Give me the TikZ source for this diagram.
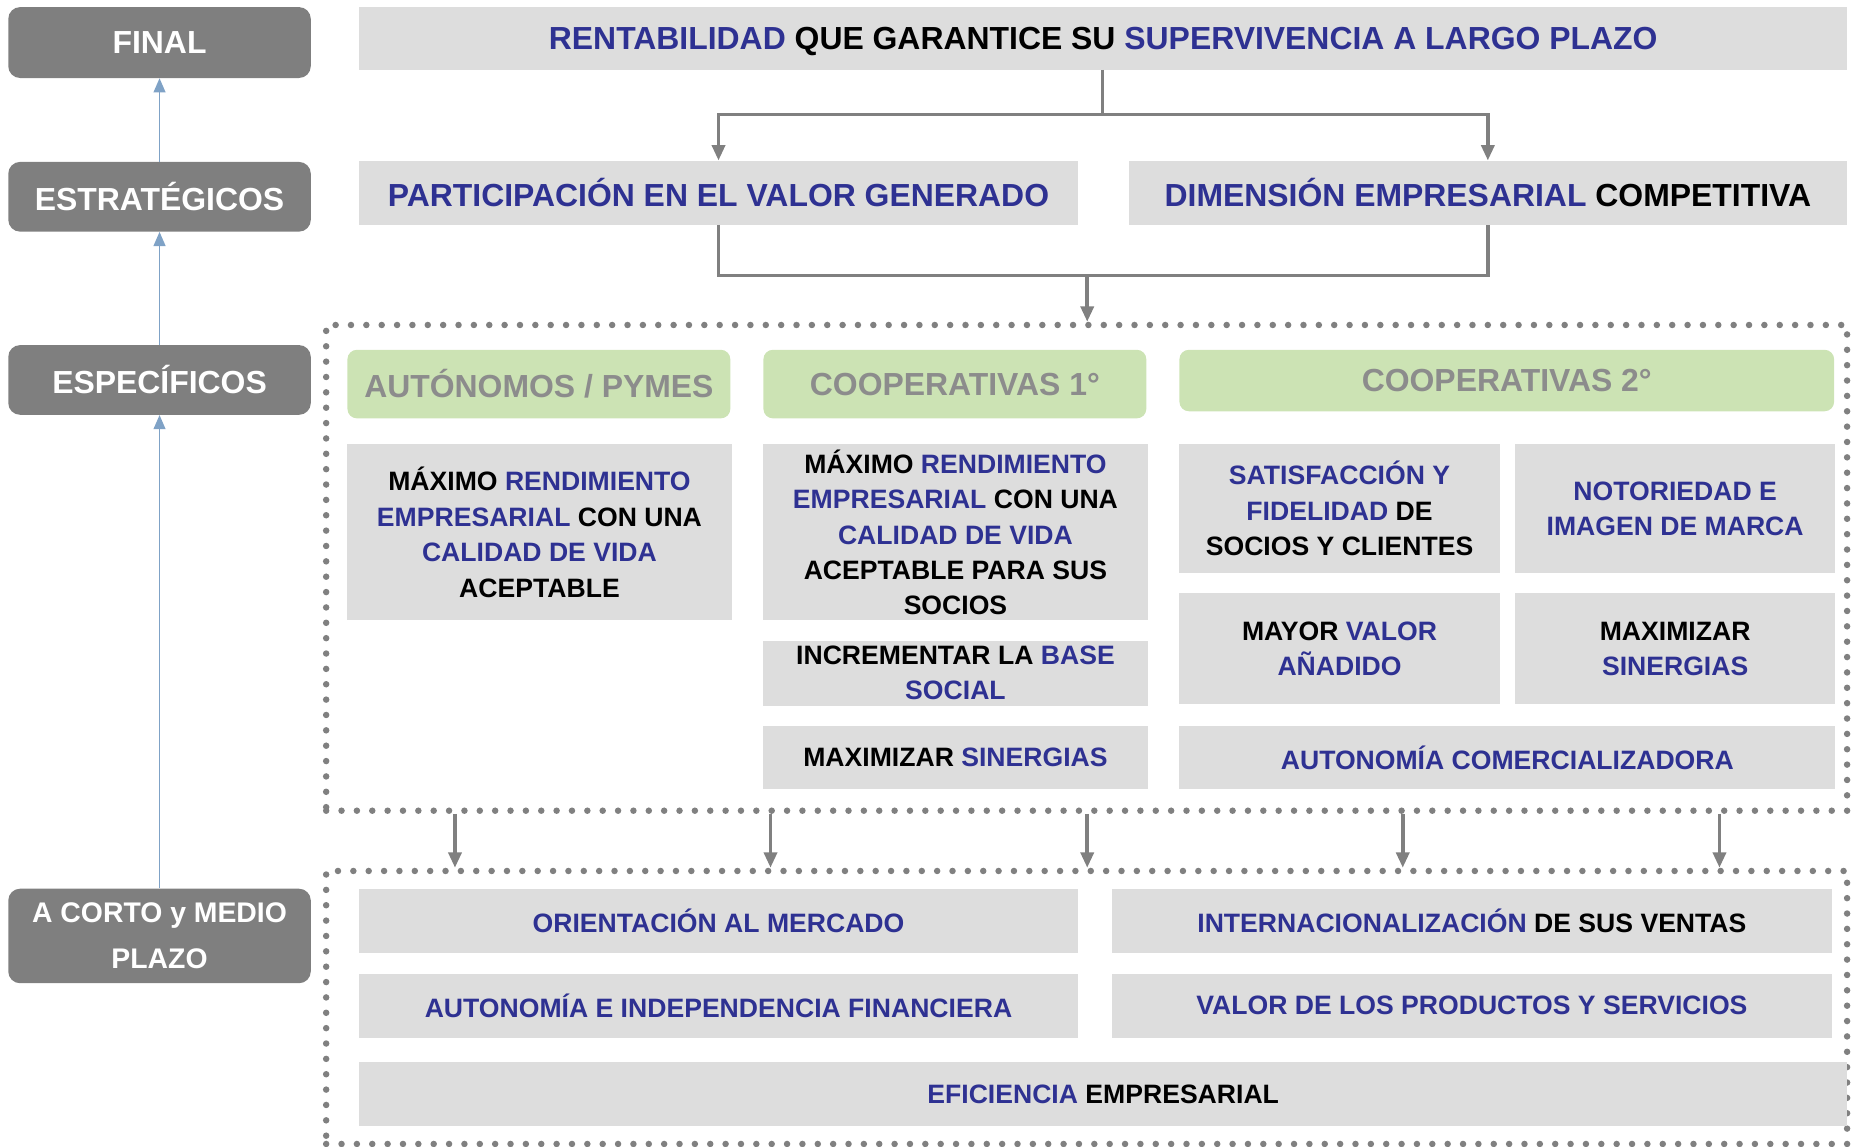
\documentclass[tikz,border=0pt]{standalone}
\usepackage{fontspec}
\setmainfont{Liberation Sans}
\usepackage{tikz}
\usetikzlibrary{arrows.meta}
\definecolor{azul}{HTML}{2E3192}
\definecolor{grisclaro}{HTML}{DDDDDD}
\definecolor{grisoscuro}{HTML}{7F7F7F}
\definecolor{gris}{HTML}{808080}
\definecolor{verde}{HTML}{CCE3B4}
\definecolor{grisverde}{HTML}{8C8C8C}
\definecolor{celeste}{HTML}{7FA2C6}
\newcommand{\az}[1]{\textcolor{azul}{#1}}
\newcommand{\letragrande}{\bfseries\fontsize{27}{36}\selectfont}
\newcommand{\letrachica}{\bfseries\fontsize{22.5}{30}\selectfont}

\begin{document}
\begin{tikzpicture}[x=1pt,y=-1pt,
    caja/.style={fill=grisclaro,inner sep=0pt,align=center,font=\letrachica},
    titulo/.style={fill=grisclaro,inner sep=0pt,align=center,font=\letragrande},
    cabecera/.style={fill=verde,rounded corners=8pt,inner sep=0pt,text=grisverde,font=\letragrande},
    etiqueta/.style={fill=grisoscuro,rounded corners=10pt,inner sep=0pt,text=white,align=center,font=\letragrande,minimum width=256pt},
    marco/.style={draw=gris,line width=5.5pt,dash pattern=on 0pt off 13pt,line cap=round,inner sep=0pt},
    conector/.style={draw=gris,line width=3pt,-{Triangle[length=13pt,width=11pt]}},
    subida/.style={draw=celeste,line width=1.5pt,-{Triangle[length=12pt,width=10pt]}}]
\useasboundingbox (0,0) rectangle (1568,970);

% niveles
\node[etiqueta,minimum height=60pt] (final) at (135,36) {FINAL};
\node[etiqueta,minimum height=59pt] (estrat) at (135,166.5) {ESTRATÉGICOS};
\node[etiqueta,minimum height=59pt] (especif) at (135,321.5) {ESPECÍFICOS};
\node[etiqueta,minimum height=80pt,font=\bfseries\fontsize{24}{39}\selectfont] (corto) at (135,792) {A CORTO y MEDIO\\PLAZO};
\draw[subida] (estrat) -- (final);
\draw[subida] (especif) -- (estrat);
\draw[subida] (corto) -- (especif);

% objetivo final y estrategicos
\node[titulo,minimum width=1259pt,minimum height=53pt,text depth=0pt] (rent) at (933.5,32.5)
  {\az{RENTABILIDAD} QUE GARANTICE SU \az{SUPERVIVENCIA A LARGO PLAZO}};
\node[titulo,minimum width=608pt,minimum height=54pt] (partic) at (608,163)
  {\az{PARTICIPACIÓN EN EL VALOR GENERADO}};
\node[titulo,minimum width=608pt,minimum height=54pt] (dimen) at (1259,163)
  {\az{DIMENSIÓN EMPRESARIAL} COMPETITIVA};

% marcos punteados
\node[marco,minimum width=1287pt,minimum height=411pt] (marco1) at (919.5,480.5) {};
\node[marco,minimum width=1287pt,minimum height=231pt] (marco2) at (919.5,852.5) {};

\coordinate (bif1) at (933,97);
\coordinate (bif2) at (920,233);
\draw[draw=gris,line width=3pt] (rent.south -| bif1) -- (bif1);
\draw[conector] (bif1) -| (partic.north);
\draw[conector] (bif1) -| (dimen.north);
\draw[draw=gris,line width=3pt] (partic.south) |- (bif2) -| (dimen.south);
\draw[conector] (bif2) -- (bif2 |- marco1.north);

% especificos
\node[cabecera,minimum width=324pt,minimum height=58pt] (aut) at (456,325) {AUTÓNOMOS / PYMES};
\node[cabecera,minimum width=324pt,minimum height=58pt] (coop1) at (808,325) {COOPERATIVAS 1°};
\node[cabecera,minimum width=554pt,minimum height=52pt] (coop2) at (1275,322) {COOPERATIVAS 2°};

\node[caja,minimum width=325pt,minimum height=149pt] (autA) at (456.5,450.5)
  {MÁXIMO \az{RENDIMIENTO}\\\az{EMPRESARIAL} CON UNA\\\az{CALIDAD DE VIDA}\\ACEPTABLE};
\node[caja,minimum width=325pt,minimum height=149pt] (coopA) at (808.5,450.5)
  {MÁXIMO \az{RENDIMIENTO}\\\az{EMPRESARIAL} CON UNA\\\az{CALIDAD DE VIDA}\\ACEPTABLE PARA SUS\\SOCIOS};
\node[caja,minimum width=325pt,minimum height=55pt] (coopB) at (808.5,569.5)
  {INCREMENTAR LA \az{BASE}\\\az{SOCIAL}};
\node[caja,minimum width=325pt,minimum height=54pt] (coopC) at (808.5,641)
  {MAXIMIZAR \az{SINERGIAS}};

\node[caja,minimum width=271pt,minimum height=109pt] (satis) at (1133.5,430.5)
  {\az{SATISFACCIÓN Y}\\\az{FIDELIDAD} DE\\SOCIOS Y CLIENTES};
\node[caja,minimum width=271pt,minimum height=109pt] (notor) at (1417.5,430.5)
  {\az{NOTORIEDAD E}\\\az{IMAGEN DE MARCA}};
\node[caja,minimum width=271pt,minimum height=94pt] (mayor) at (1133.5,549)
  {MAYOR \az{VALOR}\\\az{AÑADIDO}};
\node[caja,minimum width=271pt,minimum height=94pt] (maxim) at (1417.5,549)
  {MAXIMIZAR\\\az{SINERGIAS}};
\node[caja,minimum width=555pt,minimum height=54pt] (comerc) at (1275.5,641)
  {\az{AUTONOMÍA COMERCIALIZADORA}};

\foreach \x in {385,652,920,1187,1455}
  \draw[conector] (\x,0 |- marco1.south) -- (\x,0 |- marco2.north);

% corto y medio plazo
\node[caja,minimum width=608pt,minimum height=54pt] (orient) at (608,779)
  {\az{ORIENTACIÓN AL MERCADO}};
\node[caja,minimum width=609pt,minimum height=54pt] (intern) at (1245.5,779)
  {\az{INTERNACIONALIZACIÓN} DE SUS VENTAS};
\node[caja,minimum width=608pt,minimum height=54pt] (indep) at (608,851)
  {\az{AUTONOMÍA E INDEPENDENCIA FINANCIERA}};
\node[caja,minimum width=609pt,minimum height=54pt] (valor) at (1245.5,851)
  {\az{VALOR DE LOS PRODUCTOS Y SERVICIOS}};
\node[caja,minimum width=1259pt,minimum height=54pt] (efic) at (933.5,926)
  {\az{EFICIENCIA} EMPRESARIAL};

\end{tikzpicture}
\end{document}
